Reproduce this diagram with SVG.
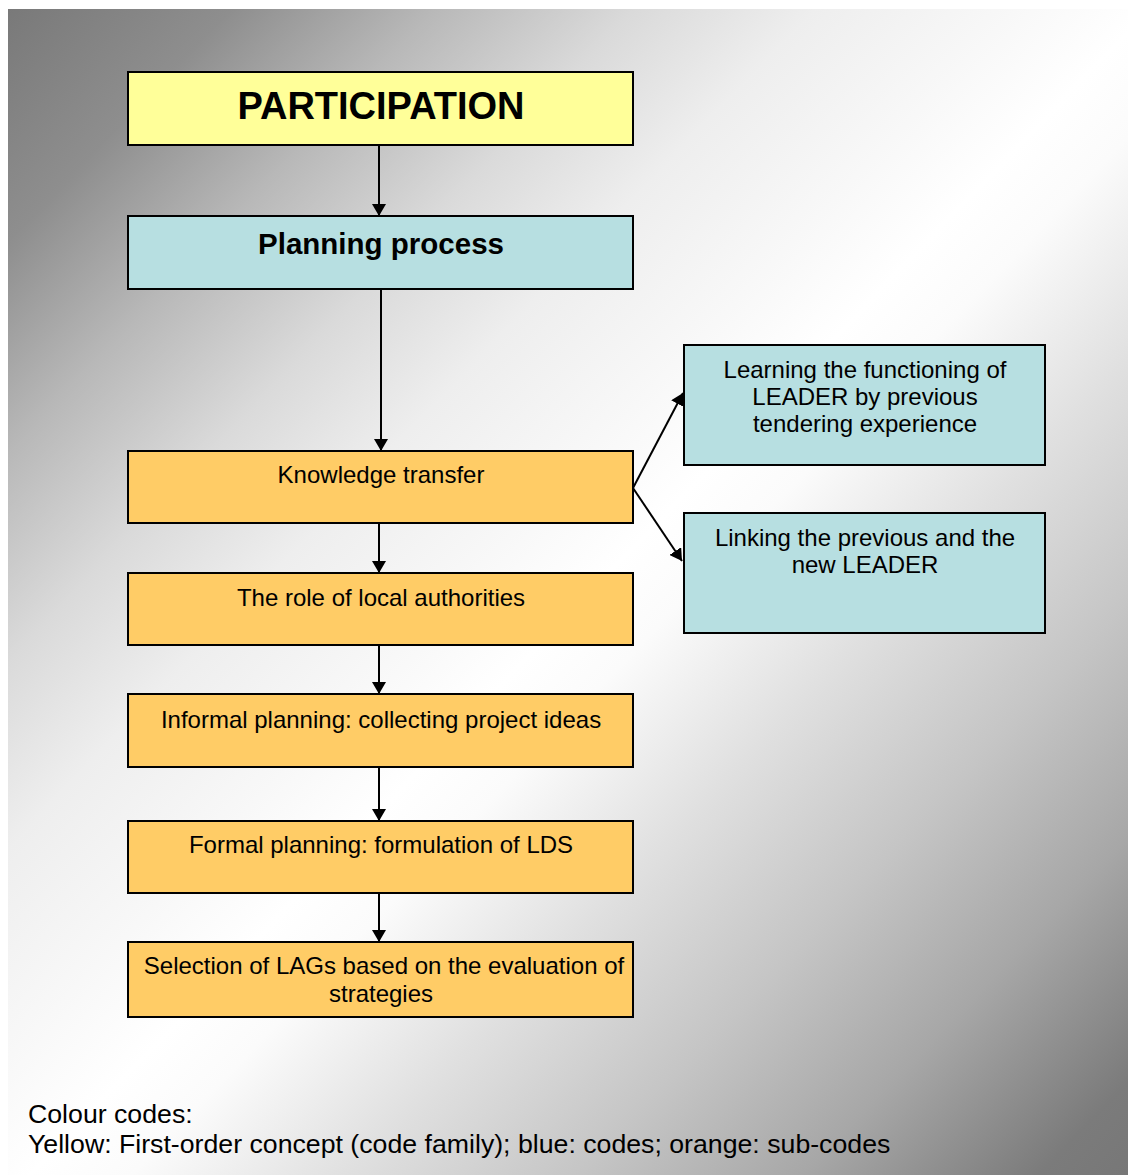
<svg xmlns="http://www.w3.org/2000/svg" width="1128" height="1175" viewBox="0 0 1128 1175">
  <defs>
    <!-- diagonal grey-white-grey backdrop -->
    <linearGradient id="bg" x1="0" y1="0" x2="1" y2="1">
      <stop offset="0" stop-color="#797979"/>
      <stop offset="0.1" stop-color="#8e8e8e"/>
      <stop offset="0.19" stop-color="#b8b8b8"/>
      <stop offset="0.28" stop-color="#dadada"/>
      <stop offset="0.36" stop-color="#eeeeee"/>
      <stop offset="0.45" stop-color="#f8f8f8"/>
      <stop offset="0.51" stop-color="#ffffff"/>
      <stop offset="0.555" stop-color="#fbfbfb"/>
      <stop offset="0.65" stop-color="#e0e0e0"/>
      <stop offset="0.755" stop-color="#c5c5c5"/>
      <stop offset="0.855" stop-color="#a7a7a7"/>
      <stop offset="0.96" stop-color="#7b7b7b"/>
      <stop offset="1" stop-color="#777777"/>
    </linearGradient>
    <marker id="arrow" viewBox="0 0 12 14" refX="12" refY="7" markerWidth="12" markerHeight="14" markerUnits="userSpaceOnUse" orient="auto">
      <path d="M0,0 L12,7 L0,14 Z" fill="#000"/>
    </marker>
    <style>
      .box { stroke: #000; stroke-width: 2; }
      .yellow { fill: #ffff99; }
      .blue { fill: #b7dfe1; }
      .orange { fill: #ffcc66; }
      .lbl { font-family: "Liberation Sans", Arial, sans-serif; font-size: 24px; fill: #000; text-anchor: middle; }
      .title { font-weight: bold; font-size: 38px; }
      .sub { font-weight: bold; font-size: 29.5px; }
      .note { font-family: "Liberation Sans", Arial, sans-serif; font-size: 26.7px; fill: #000; }
      .conn { stroke: #000; stroke-width: 2; fill: none; marker-end: url(#arrow); }
    </style>
  </defs>

  <rect x="8" y="9" width="1120" height="1166" fill="url(#bg)"/>

  <g id="connectors">
    <line class="conn" x1="379" y1="145" x2="379" y2="216"/>
    <line class="conn" x1="381" y1="289" x2="381" y2="451"/>
    <line class="conn" x1="379" y1="523" x2="379" y2="573"/>
    <line class="conn" x1="379" y1="645" x2="379" y2="694"/>
    <line class="conn" x1="379" y1="767" x2="379" y2="821"/>
    <line class="conn" x1="379" y1="893" x2="379" y2="942"/>
    <line class="conn" x1="633" y1="488" x2="683" y2="393"/>
    <line class="conn" x1="633" y1="488" x2="682" y2="561"/>
  </g>

  <g id="participation">
    <rect class="box yellow" x="128" y="72" width="505" height="73"/>
    <text class="lbl title" x="381" y="119">PARTICIPATION</text>
  </g>

  <g id="planning-process">
    <rect class="box blue" x="128" y="216" width="505" height="73"/>
    <text class="lbl sub" x="381" y="254">Planning process</text>
  </g>

  <g id="knowledge-transfer">
    <rect class="box orange" x="128" y="451" width="505" height="72"/>
    <text class="lbl" x="381" y="483">Knowledge transfer</text>
  </g>

  <g id="local-authorities">
    <rect class="box orange" x="128" y="573" width="505" height="72"/>
    <text class="lbl" x="381" y="606">The role of local authorities</text>
  </g>

  <g id="informal-planning">
    <rect class="box orange" x="128" y="694" width="505" height="73"/>
    <text class="lbl" x="381" y="728">Informal planning: collecting project ideas</text>
  </g>

  <g id="formal-planning">
    <rect class="box orange" x="128" y="821" width="505" height="72"/>
    <text class="lbl" x="381" y="853">Formal planning: formulation of LDS</text>
  </g>

  <g id="lag-selection">
    <rect class="box orange" x="128" y="942" width="505" height="75"/>
    <text class="lbl" x="384" y="974">Selection of LAGs based on the evaluation of</text>
    <text class="lbl" x="381" y="1002">strategies</text>
  </g>

  <g id="learning-leader">
    <rect class="box blue" x="684" y="345" width="361" height="120"/>
    <text class="lbl" x="865" y="378">Learning the functioning of</text>
    <text class="lbl" x="865" y="405">LEADER by previous</text>
    <text class="lbl" x="865" y="432">tendering experience</text>
  </g>

  <g id="linking-leader">
    <rect class="box blue" x="684" y="513" width="361" height="120"/>
    <text class="lbl" x="865" y="546">Linking the previous and the</text>
    <text class="lbl" x="865" y="573">new LEADER</text>
  </g>

  <g id="legend">
    <text class="note" x="28" y="1123">Colour codes:</text>
    <text class="note" x="28" y="1153">Yellow: First-order concept (code family); blue: codes; orange: sub-codes</text>
  </g>
</svg>
